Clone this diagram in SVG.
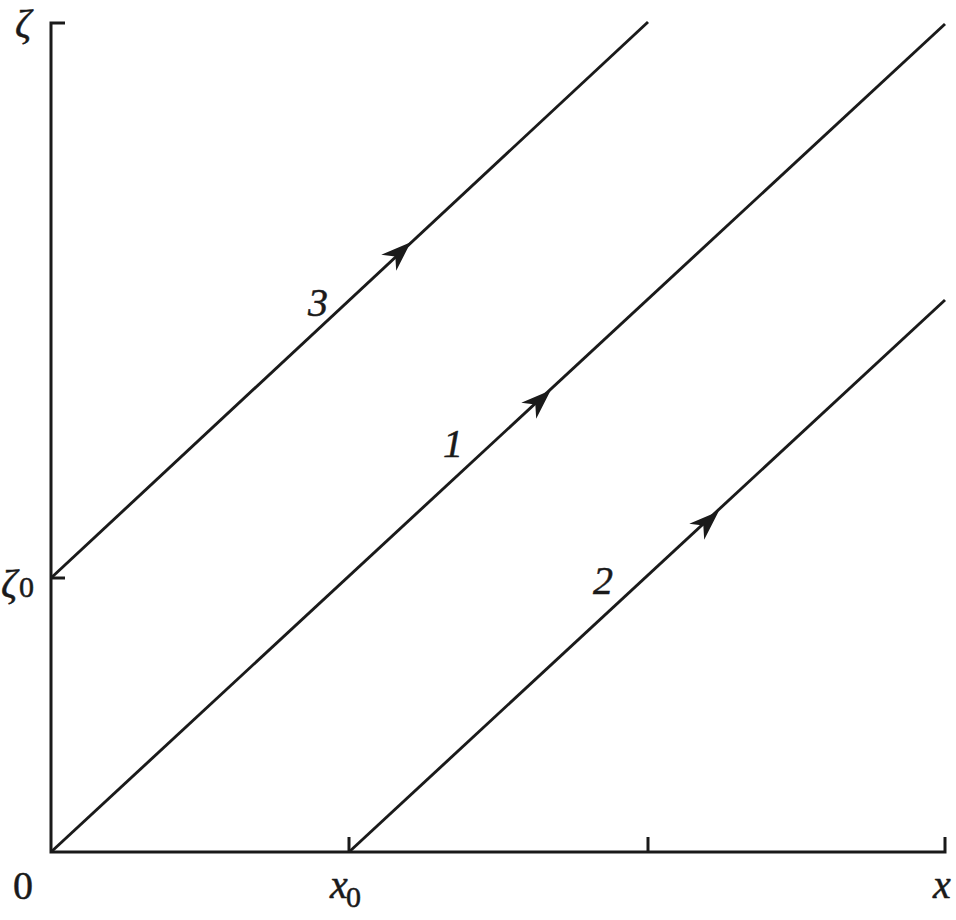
<svg xmlns="http://www.w3.org/2000/svg" xmlns:xlink="http://www.w3.org/1999/xlink" width="956" height="920" viewBox="0 0 956 920">
<style>
.ax{stroke:#1a1a1a;stroke-width:3;fill:none;stroke-linecap:butt}
.ln{stroke:#1a1a1a;stroke-width:2.9;fill:none}
text{font-family:'Liberation Serif','Times New Roman',Times,serif;fill:#1a1a1a;stroke:#1a1a1a;stroke-width:0.5}
.i{font-style:italic}
</style>
<defs>
<path id="ah" d="M1,0 L-29,-11 L-20,0 L-29,11 Z" fill="#1a1a1a"/>
</defs>
<rect width="956" height="920" fill="#fff"/>
<g id="axes">
<path class="ax" d="M65,23 H51 V852 H945 V837"/>
<path class="ax" d="M51,578 H65"/>
<path class="ax" d="M349,852 V837"/>
<path class="ax" d="M648,852 V837"/>
</g>
<g id="connectors">
<line class="ln" x1="51" y1="852" x2="945" y2="24"/>
<line class="ln" x1="349" y1="852" x2="945" y2="300"/>
<line class="ln" x1="51" y1="578" x2="648" y2="22"/>
<use xlink:href="#ah" transform="translate(410,243) rotate(-42.8)"/>
<use xlink:href="#ah" transform="translate(550,391) rotate(-42.8)"/>
<use xlink:href="#ah" transform="translate(718,512) rotate(-42.8)"/>
</g>
<g id="labels">
<text class="i" x="308" y="316" font-size="40">3</text>
<text class="i" x="443" y="457" font-size="40">1</text>
<text class="i" x="593" y="594" font-size="40">2</text>
<text x="13" y="899" font-size="40">0</text>
<text class="i" x="330" y="898" font-size="40">x</text>
<text x="346" y="907" font-size="30">0</text>
<text class="i" x="933" y="898" font-size="40">x</text>
<text class="i" x="15" y="37" font-size="40">ζ</text>
<text class="i" x="1" y="597" font-size="40">ζ</text>
<text x="19" y="597" font-size="30">0</text>
</g>
</svg>
